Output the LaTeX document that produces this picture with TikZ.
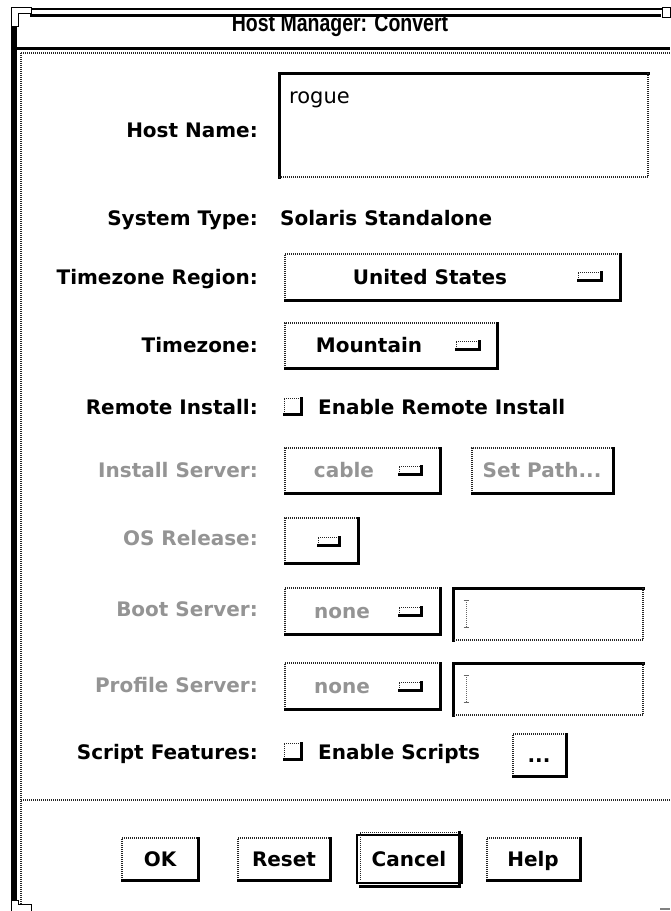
\documentclass[tikz,border=0pt]{standalone}
\usepackage{graphicx}
\usepackage{fontspec}
\setmainfont{DejaVu Sans}
\newfontfamily\titlefont{Liberation Sans}
\usetikzlibrary{fit}
\begin{document}
\begin{tikzpicture}[x=1pt,y=-1pt,
  ui/.style={font=\fontsize{20}{24}\selectfont\bfseries, inner sep=0pt},
  lbl/.style={ui, anchor=base east},
  val/.style={ui, anchor=base west},
  mid/.style={ui, anchor=base},
  dim/.style={text=black!42},
  area/.style={inner sep=0pt, outer sep=0pt},
  stipple/.style={line width=1.3pt, dash pattern=on 1pt off 1pt, black!85},
  finestipple/.style={line width=1pt, dash pattern=on 1pt off 1pt, black!85},
  shade/.style={line width=3pt, line cap=rect, black},
  slimshade/.style={line width=3pt, line cap=rect, black},
  corner/.style={fill=white, draw=black, line width=1pt},
]
\path[use as bounding box, fill=white] (0,0) rectangle (670,911);

% ---- window frame ----
\draw[line width=1.5pt] (28,9) -- (670,9);
\draw[line width=3pt] (30,15) -- (661,15);
\path[corner] (11,7) -- (31,7) -- (31,13) -- (18,13) -- (18,26) -- (11,26) -- cycle;
\path[corner] (662,7) -- (670,7) -- (670,17) -- (662,17) -- cycle;
\fill (11,26) rectangle (17,900);
\path[corner] (11,900) -- (18,900) -- (18,904) -- (31,904) -- (31,911) -- (11,911) -- cycle;
\draw[line width=3pt] (17,48) -- (670,48);
\draw[stipple] (21,53) -- (670,53);
\draw[stipple] (21,53) -- (21,905);
\draw[stipple, line width=2pt] (21,800) -- (670,800);
\draw[black!50, line width=1.5pt] (660,909) -- (670,909);

% ---- title ----
\node[inner sep=0pt, anchor=base, font=\titlefont\fontsize{19.5}{22}\selectfont\bfseries] (title) at (340,31) {\scalebox{1}[1.25]{Host Manager: Convert}};

% ---- field labels ----
\node[lbl] (lhost) at (258,137) {Host Name:};
\node[lbl] (lsys)  at (258,225) {System Type:};
\node[lbl] (ltzr)  at (258,284) {Timezone Region:};
\node[lbl] (ltz)   at (258,352) {Timezone:};
\node[lbl] (lrem)  at (258,414) {Remote Install:};
\node[lbl,dim] (linst) at (258,477) {Install Server:};
\node[lbl,dim] (los)   at (258,545) {OS Release:};
\node[lbl,dim] (lboot) at (258,616) {Boot Server:};
\node[lbl,dim] (lprof) at (258,692) {Profile Server:};
\node[lbl] (lscr)  at (258,759) {Script Features:};

% ---- widget outlines ----
\node[area, fit={(279,73) (648,177)}]  (hostbox) {};
\node[area, fit={(285,254) (620,300)}] (tzrbtn) {};
\node[area, fit={(285,323) (497,368)}] (tzbtn) {};
\node[area, fit={(285,448) (440,493)}] (instbtn) {};
\node[area, fit={(472,448) (613,493)}] (pathbtn) {};
\node[area, fit={(285,518) (358,563)}] (osbtn) {};
\node[area, fit={(285,588) (440,634)}] (bootbtn) {};
\node[area, fit={(453,588) (643,640)}] (bootfield) {};
\node[area, fit={(285,663) (440,709)}] (profbtn) {};
\node[area, fit={(453,663) (643,715)}] (proffield) {};
\node[area, fit={(513,734) (566,776)}] (morebtn) {};
\node[area, fit={(122,838) (198,880)}] (okbtn) {};
\node[area, fit={(238,838) (330,880)}] (resetbtn) {};
\node[area, fit={(357,835) (462,883)}] (cancelbtn) {};
\node[area, fit={(487,838) (580,880)}] (helpbtn) {};

% menu marks and check boxes
\node[area, fit={(578,272) (601,280)}] (m1) {};
\node[area, fit={(456,341) (479,349)}] (m2) {};
\node[area, fit={(399,466) (421,474)}] (m3) {};
\node[area, fit={(318,537) (339,545)}] (m4) {};
\node[area, fit={(399,607) (421,615)}] (m5) {};
\node[area, fit={(399,682) (421,690)}] (m6) {};
\node[area, fit={(284,398) (301,414)}] (cb1) {};
\node[area, fit={(284,743) (301,759)}] (cb2) {};

% raised widgets: stippled top/left, black bottom/right
\foreach \w in {tzrbtn,tzbtn,instbtn,pathbtn,osbtn,bootbtn,profbtn,morebtn,okbtn,resetbtn,helpbtn} {
  \draw[stipple] (\w.south west) -- (\w.north west) -- (\w.north east);
  \draw[shade] (\w.north east) -- (\w.south east) -- (\w.south west);
}
\foreach \w in {m1,m2,m3,m4,m5,m6,cb1,cb2} {
  \draw[finestipple] (\w.south west) -- (\w.north west) -- (\w.north east);
  \draw[slimshade] (\w.north east) -- (\w.south east) -- (\w.south west);
}
% sunken text fields: black top/left, stippled bottom/right
\foreach \w in {hostbox,bootfield,proffield} {
  \draw[shade] (\w.south west) -- (\w.north west) -- (\w.north east);
  \draw[stipple] (\w.north east) -- (\w.south east) -- (\w.south west);
}
% default button: heavy frame
\draw[line width=2.5pt] (cancelbtn.north west) rectangle (cancelbtn.south east);
\draw[finestipple] ([shift={(3,-3)}]cancelbtn.south west) -- ([shift={(3,-3)}]cancelbtn.north west) -- ([shift={(-3,-3)}]cancelbtn.north east);
\draw[shade] ([shift={(-3,-3)}]cancelbtn.north east) -- ([shift={(-3,3)}]cancelbtn.south east) -- ([shift={(3,3)}]cancelbtn.south west);

% text cursors in empty fields
\foreach \c/\t/\b in {bc/600/627, pc/675/702} {
  \draw[black!60, line width=1pt, dash pattern=on 1pt off 1pt] (466,\t) -- (466,\b);
  \draw[black!60, line width=0.8pt] (463.5,\t) -- (468.5,\t) (463.5,\b) -- (468.5,\b);
}

% ---- widget texts ----
\node[inner sep=0pt, anchor=base west, font=\fontsize{21}{24}\selectfont] (vhost) at (289,103) {rogue};
\node[val] (vsys) at (280,225) {Solaris Standalone};
\node[mid] (vtzr) at (430,284) {United States};
\node[mid] (vtz)  at (369,352) {Mountain};
\node[val] (vrem) at (318,414) {Enable Remote Install};
\node[mid,dim] (vinst) at (344,477) {cable};
\node[mid,dim] (vpath) at (542,477) {Set Path...};
\node[mid,dim] (vboot) at (342,618) {none};
\node[mid,dim] (vprof) at (342,693) {none};
\node[val] (vscr) at (318,759) {Enable Scripts};
\node[mid] (vmore) at (539,762) {...};
\node[mid] (vok)     at (160,866) {OK};
\node[mid] (vreset)  at (284,866) {Reset};
\node[mid] (vcancel) at (409,866) {Cancel};
\node[mid] (vhelp)   at (533,866) {Help};
\end{tikzpicture}
\end{document}
